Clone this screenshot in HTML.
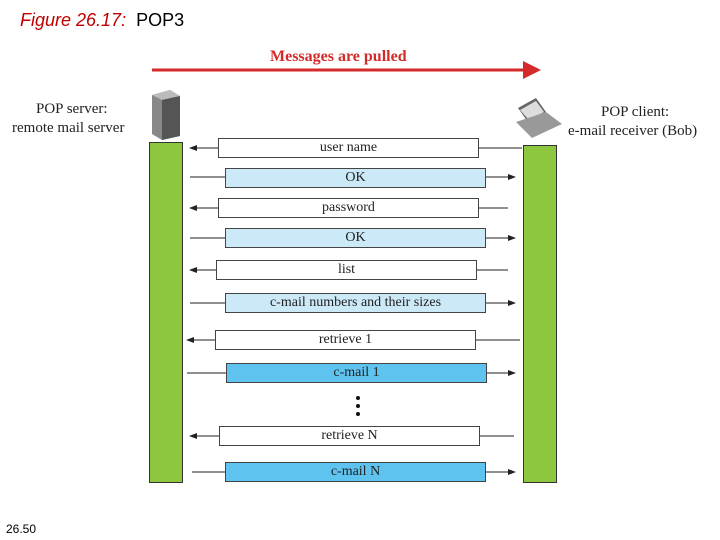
<!DOCTYPE html>
<html><head><style>
body{margin:0;width:720px;height:540px;background:#fff;position:relative;overflow:hidden;font-family:"Liberation Serif",serif}
.t{position:absolute;white-space:nowrap}
.bar{position:absolute;background:#8dc63f;border:1px solid #333;box-sizing:border-box}
.box{position:absolute;height:20px;box-sizing:border-box;border:1px solid #444;text-align:center;font-size:14px;line-height:18px;color:#222}
.w{background:#fff}.lb{background:#cce9f8}.db{background:#5ec4ef}
</style></head><body>
<div class="t" style="left:20px;top:10px;font:italic 18px 'Liberation Sans',sans-serif;color:#c00000">Figure 26.17:<span style="color:#000;font-style:normal">&nbsp; POP3</span></div>
<div class="t" style="left:270px;top:48px;font-weight:bold;font-size:16px;color:#d42a2a">Messages are pulled</div>
<svg width="720" height="540" style="position:absolute;left:0;top:0">
<defs><marker id="a" markerWidth="8" markerHeight="6" refX="7" refY="3" orient="auto"><path d="M0,0L8,3L0,6z" fill="#222"/></marker>
<marker id="r" markerWidth="6" markerHeight="6" refX="5" refY="3" orient="auto"><path d="M0,0L6,3L0,6z" fill="#d42a2a"/></marker></defs>
<line x1="152" y1="70" x2="538" y2="70" stroke="#d42a2a" stroke-width="3" marker-end="url(#r)"/>
<g stroke="#222" stroke-width="1">
<line x1="522" y1="148" x2="190" y2="148" marker-end="url(#a)"/>
<line x1="190" y1="177" x2="515" y2="177" marker-end="url(#a)"/>
<line x1="508" y1="208" x2="190" y2="208" marker-end="url(#a)"/>
<line x1="190" y1="238" x2="515" y2="238" marker-end="url(#a)"/>
<line x1="508" y1="270" x2="190" y2="270" marker-end="url(#a)"/>
<line x1="190" y1="303" x2="515" y2="303" marker-end="url(#a)"/>
<line x1="520" y1="340" x2="187" y2="340" marker-end="url(#a)"/>
<line x1="187" y1="373" x2="515" y2="373" marker-end="url(#a)"/>
<line x1="514" y1="436" x2="190" y2="436" marker-end="url(#a)"/>
<line x1="192" y1="472" x2="515" y2="472" marker-end="url(#a)"/>
</g>
<g fill="#111"><circle cx="358" cy="398" r="2"/><circle cx="358" cy="406" r="2"/><circle cx="358" cy="414" r="2"/></g>
<path d="M152,95 L170,90 L180,96 L180,136 L162,140 L152,134z" fill="#888"/>
<path d="M152,95 L170,90 L180,96 L162,100z" fill="#bbb"/>
<path d="M162,100 L180,96 L180,136 L162,140z" fill="#555"/>
<path d="M518,108 L536,98 L546,112 L528,122z" fill="#666"/>
<path d="M520,110 L536,101 L544,112 L529,120z" fill="#ddd"/>
<path d="M516,122 L546,112 L562,124 L532,138z" fill="#999"/>
</svg>
<div class="t" style="left:36px;top:101px;font-size:15px;color:#222">POP server:</div>
<div class="t" style="left:12px;top:120px;font-size:15px;color:#222">remote mail server</div>
<div class="t" style="left:601px;top:104px;font-size:15px;color:#222">POP client:</div>
<div class="t" style="left:568px;top:123px;font-size:15px;color:#222">e-mail receiver (Bob)</div>
<div class="bar" style="left:149px;top:142px;width:34px;height:341px"></div>
<div class="bar" style="left:523px;top:145px;width:34px;height:338px"></div>
<div class="box w" style="left:218px;top:138px;width:261px">user name</div>
<div class="box lb" style="left:225px;top:168px;width:261px">OK</div>
<div class="box w" style="left:218px;top:198px;width:261px">password</div>
<div class="box lb" style="left:225px;top:228px;width:261px">OK</div>
<div class="box w" style="left:216px;top:260px;width:261px">list</div>
<div class="box lb" style="left:225px;top:293px;width:261px">c-mail numbers and their sizes</div>
<div class="box w" style="left:215px;top:330px;width:261px">retrieve 1</div>
<div class="box db" style="left:226px;top:363px;width:261px">c-mail 1</div>
<div class="box w" style="left:219px;top:426px;width:261px">retrieve N</div>
<div class="box db" style="left:225px;top:462px;width:261px">c-mail N</div>
<div class="t" style="left:6px;top:522px;font:12px 'Liberation Sans',sans-serif">26.50</div>
</body></html>
